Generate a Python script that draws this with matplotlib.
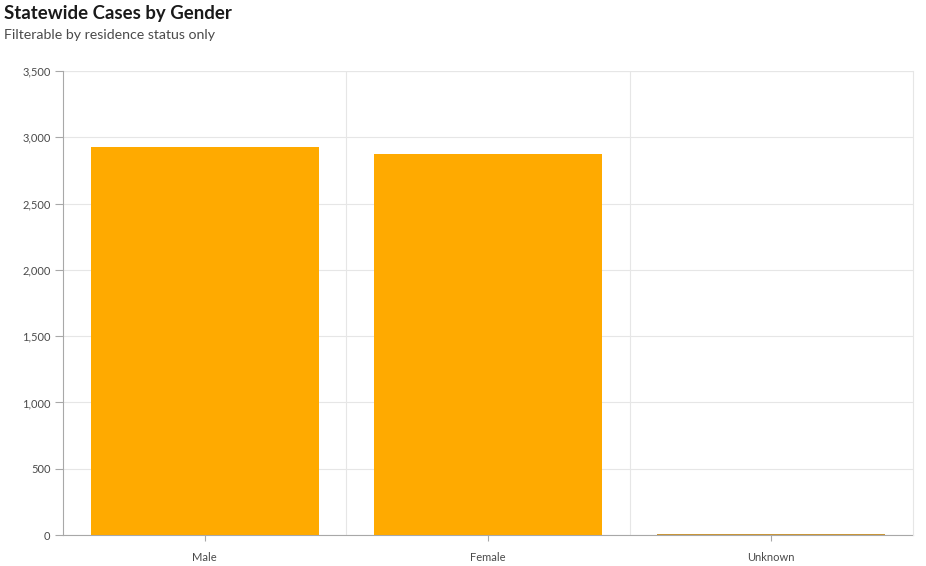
import matplotlib
matplotlib.use("Agg")
import matplotlib.pyplot as plt
from matplotlib.ticker import FuncFormatter, MultipleLocator

plt.rcParams['font.family'] = ['Lato', 'DejaVu Sans']

genders = ["Male", "Female", "Unknown"]
cases = [2927, 2874, 5]

fig = plt.figure(figsize=(9.26, 5.66), dpi=100)
ax = fig.add_axes([63 / 926, 1 - 535 / 566, 850 / 926, 464 / 566])

x = range(len(genders))
bar_colors = ["#ffaa00", "#ffaa00", "#c8963a"]
ax.bar(x, cases, width=0.805, color=bar_colors, linewidth=0.0, zorder=3)

ax.set_xlim(-0.5, 2.5)
ax.set_ylim(0, 3500)
ax.yaxis.set_major_locator(MultipleLocator(500))
ax.yaxis.set_major_formatter(FuncFormatter(lambda v, p: f"{int(v):,}"))
ax.set_xticks(list(x))
ax.set_xticklabels(genders)

ax.grid(axis="y", color="#e6e6e6", linewidth=0.8, zorder=0)
for b in [0.5, 1.5]:
    ax.axvline(b, color="#e6e6e6", linewidth=0.8, zorder=0)

ax.spines["top"].set_visible(False)
ax.spines["right"].set_color("#e6e6e6")
ax.spines["left"].set_color("#a8a8a8")
ax.spines["bottom"].set_color("#a8a8a8")
ax.spines["bottom"].set_zorder(1)
ax.axhline(3500, color="#e6e6e6", linewidth=0.8, zorder=0)

ax.tick_params(axis="y", colors="#a8a8a8", labelcolor="#4a4a4a", labelsize=8, length=6, width=0.8, pad=3)
ax.tick_params(axis="x", colors="#a8a8a8", labelcolor="#4a4a4a", labelsize=8, length=4, width=0.8, pad=8)

fig.text(4 / 926, 1 - 14 / 566, "Statewide Cases by Gender", fontsize=13.4, fontweight="bold",
         color="#1a1a1a", va="center", ha="left")
fig.text(4 / 926, 1 - 35 / 566, "Filterable by residence status only", fontsize=10.2,
         color="#4a4a4a", va="center", ha="left")

fig.savefig("out.png", dpi=100)
